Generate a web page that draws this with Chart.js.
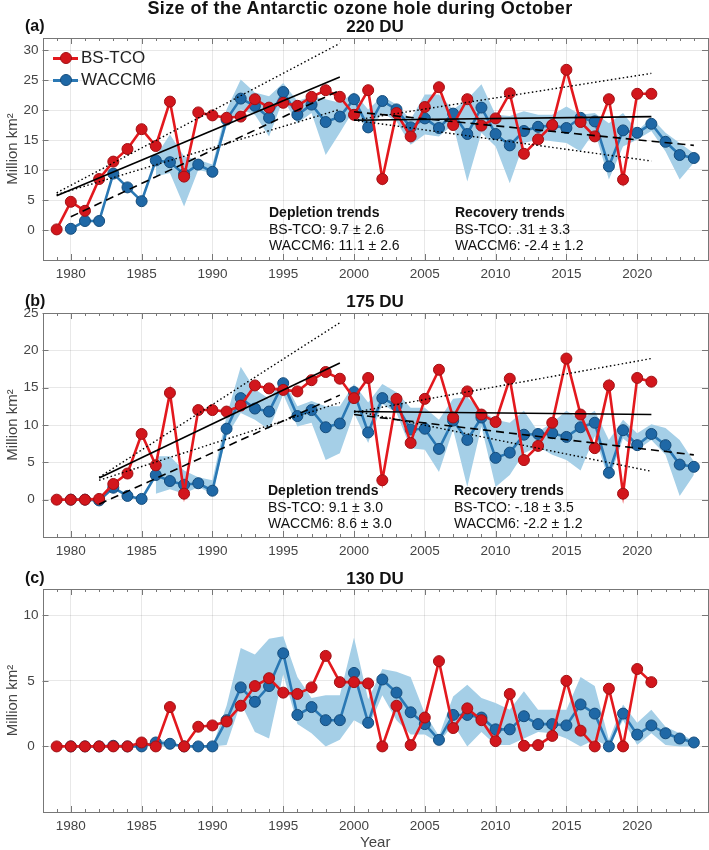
<!DOCTYPE html>
<html>
<head>
<meta charset="utf-8">
<script src="https://cdn.jsdelivr.net/npm/chart.js@4.4.1/dist/chart.umd.min.js"></script>
<style>
  body { margin: 0; background: #fff; font-family: "Liberation Sans", Arial, sans-serif; }
  #wrap { position: relative; width: 709px; height: 850px; }
  canvas { position: absolute; left: 0; }
  .t { position: absolute; white-space: nowrap; color: #111; }
  .b { font-weight: bold; }
  .leg { position: absolute; left: 53px; font-size: 17px; color: #222; }
  .leg div { position: relative; height: 22px; line-height: 22px; padding-left: 28px; }
  .leg i { position: absolute; left: 0; top: 10px; width: 25px; height: 3px; }
  .leg b { position: absolute; left: 7px; top: 5px; width: 10px; height: 10px; border-radius: 50%; border: 1px solid; }
</style>
</head>
<body>
<div id="wrap">
  <canvas id="ca"></canvas>
  <canvas id="cb"></canvas>
  <canvas id="cc"></canvas>

  <div class="t b" style="left:0;width:720px;text-align:center;top:-2px;font-size:18px;letter-spacing:0.4px;">Size of the Antarctic ozone hole during October</div>
  <div class="t b" style="left:25px;top:17px;font-size:16px;">(a)</div>
  <div class="t b" style="left:42px;width:666px;text-align:center;top:17px;font-size:17px;">220 DU</div>
  <div class="t b" style="left:25px;top:292px;font-size:16px;">(b)</div>
  <div class="t b" style="left:42px;width:666px;text-align:center;top:292px;font-size:17px;">175 DU</div>
  <div class="t b" style="left:25px;top:569px;font-size:16px;">(c)</div>
  <div class="t b" style="left:42px;width:666px;text-align:center;top:569px;font-size:17px;">130 DU</div>

  <div class="leg" style="top:47px;">
    <div><i style="background:#e3191e"></i><b style="background:#d2161c;border-color:#a01014"></b>BS-TCO</div>
    <div><i style="background:#2a78b4"></i><b style="background:#1f68a6;border-color:#164d7c"></b>WACCM6</div>
  </div>

  <div class="t" style="left:269px;top:204px;font-size:14px;line-height:16.7px;"><span class="b">Depletion trends</span><br>BS-TCO: 9.7 ± 2.6<br>WACCM6: 11.1 ± 2.6</div>
  <div class="t" style="left:455px;top:204px;font-size:14px;line-height:16.7px;"><span class="b">Recovery trends</span><br>BS-TCO: .31 ± 3.3<br>WACCM6: -2.4 ± 1.2</div>
  <div class="t" style="left:268px;top:482px;font-size:14px;line-height:16.7px;"><span class="b">Depletion trends</span><br>BS-TCO: 9.1 ± 3.0<br>WACCM6: 8.6 ± 3.0</div>
  <div class="t" style="left:454px;top:482px;font-size:14px;line-height:16.7px;"><span class="b">Recovery trends</span><br>BS-TCO: -.18 ± 3.5<br>WACCM6: -2.2 ± 1.2</div>
</div>

<script>
// years
var bsYears = [];  for (var y = 1979; y <= 2021; y++) bsYears.push(y);
var wacYears = []; for (var y = 1980; y <= 2024; y++) wacYears.push(y);
var xTicks = [1980, 1985, 1990, 1995, 2000, 2005, 2010, 2015, 2020];

// ---- 220 DU ----
var bs220 = [0.1, 4.7, 3.2, 8.5, 11.4, 13.5, 16.8, 14.0, 21.4, 8.9, 19.6, 19.1, 18.7, 18.9, 21.8, 20.4, 21.2, 20.7, 22.2, 23.3, 22.2,
  19.2, 23.3, 8.5, 19.5, 15.6, 20.5, 23.8, 17.5, 21.8, 17.4, 18.6, 22.8, 12.7, 15.1, 17.5, 26.7, 18.0, 15.6, 21.8, 8.4, 22.7, 22.7];
var wac220 = [0.2, 1.5, 1.5, 9.4, 7.1, 4.8, 11.6, 11.3, 9.3, 10.9, 9.7, 18.4, 21.9, 20.7, 18.7, 23.0, 19.2, 20.9, 18.0, 18.9,
  21.8, 17.1, 21.5, 20.1, 17.1, 18.6, 17.0, 19.4, 16.0, 20.4, 16.0, 14.1, 16.5, 17.2, 17.4, 17.0, 18.7, 18.1, 10.6, 16.6, 16.2, 17.7, 14.7, 12.5, 12.0];
var hi220 = [null, null, null, null, null, null, 12.3, 15.9, 12.3, 11.7, 10.9, 20.1, 25.1, 22.9, 22.3, 24.5, 21.5, 22.3, 21.8, 21.2,
  22.9, 20.1, 22.3, 20.9, 18.4, 22.6, 22.6, 20.1, 21.8, 24.3, 19.2, 19.0, 19.8, 19.2, 19.2, 20.6, 19.2, 19.5, 17.8, 19.5, 16.5, 18.7, 16.2, 14.5, 12.8];
var lo220 = [null, null, null, null, null, null, 8.9, 9.5, 3.9, 10.0, 9.5, 17.3, 20.1, 19.2, 15.6, 21.8, 17.8, 19.5, 12.5, 16.2,
  20.1, 16.2, 19.5, 18.1, 14.2, 15.9, 15.6, 17.6, 8.1, 16.2, 13.9, 7.8, 14.5, 15.1, 14.8, 14.5, 13.1, 16.5, 8.4, 13.9, 15.1, 16.5, 13.1, 8.4, 11.2];
// trend line end points [x0, y0, x1, y1]
var tr220 = {
  bsDep:   [1979, 5.7, 1999, 25.5],
  bsDepHi: [1979, 6.2, 1999, 31.1],
  bsDepLo: [1979, 5.9, 1999, 20.1],
  wacDep:  [1980, 2.2, 1999, 23.3],
  bsRec:   [2000, 18.3, 2021, 18.9],
  bsRecHi: [2000, 18.3, 2021, 26.1],
  bsRecLo: [2000, 18.3, 2021, 11.5],
  wacRec:  [2000, 19.7, 2024, 14.1]
};

// ---- 175 DU ----
var bs175 = [0, 0, 0, 0.1, 2.1, 3.5, 8.8, 4.6, 14.3, 0.8, 12.0, 12.0, 11.8, 12.6, 15.3, 14.9, 14.7, 14.5, 16.0, 17.1, 16.2,
  13.6, 16.3, 2.6, 13.5, 7.6, 13.5, 17.4, 11.0, 14.5, 11.4, 10.4, 16.2, 5.3, 7.2, 10.3, 18.9, 11.4, 6.9, 15.3, 0.8, 16.3, 15.8];
var wac175 = [0, 0, -0.1, 1.6, 0.5, 0.1, 3.3, 2.5, 2.0, 2.2, 1.2, 9.5, 13.6, 12.2, 11.8, 15.6, 11.2, 12.0, 9.7, 10.2,
  14.4, 9.0, 13.6, 12.6, 9.4, 9.5, 6.8, 10.6, 8.0, 11.0, 5.6, 6.3, 8.7, 8.8, 8.9, 8.4, 9.7, 10.3, 3.6, 9.3, 7.3, 8.8, 7.3, 4.7, 4.4];
var hi175 = [null, null, null, null, null, null, 5.8, 5.8, 3.9, 3.0, 2.6, 11.2, 17.8, 14.8, 13.5, 16.2, 12.5, 13.2, 12.5, 12.5,
  15.5, 13.0, 15.5, 14.4, 12.3, 12.3, 10.7, 13.5, 13.7, 11.9, 10.7, 10.3, 11.9, 9.1, 10.3, 11.9, 10.7, 11.9, 8.0, 10.7, 8.9, 10.1, 9.6, 8.0, 5.1];
var lo175 = [null, null, null, null, null, null, 0.8, 1.4, 0.8, 1.7, 0.8, 8.5, 11.6, 10.7, 9.4, 14.1, 9.8, 10.3, 5.3, 6.2,
  11.6, 7.6, 12.8, 11.6, 6.9, 6.7, 3.7, 9.4, 1.7, 9.8, 1.7, 3.3, 6.2, 7.1, 6.0, 5.3, 3.9, 8.5, 2.6, 8.2, 6.7, 8.0, 6.0, 0.5, 3.3];
var tr175 = {
  bsDep:   [1982, 2.9, 1999, 18.3],
  bsDepHi: [1982, 3.0, 1999, 23.7],
  bsDepLo: [1982, 2.6, 1999, 13.0],
  wacDep:  [1982, -0.6, 1999, 14.0],
  bsRec:   [2000, 11.8, 2021, 11.4],
  bsRecHi: [2000, 11.7, 2021, 18.9],
  bsRecLo: [2000, 11.9, 2021, 3.8],
  wacRec:  [2000, 11.4, 2024, 6.0]
};

// ---- 130 DU ----
var bs130 = [0, 0, 0, 0, 0, 0, 0.3, 0, 3.0, 0, 1.5, 1.6, 1.9, 3.1, 4.6, 5.2, 4.1, 4.0, 4.5, 6.9, 4.9,
  4.9, 4.8, 0, 3.1, 0.1, 2.2, 6.5, 1.4, 2.9, 2.0, 0.4, 4.0, 0.05, 0.1, 0.8, 5.0, 1.2, 0, 4.4, 0, 5.9, 4.9];
var wac130 = [0, 0, 0, 0.05, 0, 0, 0.3, 0.2, 0, 0, 0, 2.0, 4.5, 3.4, 4.6, 7.1, 2.4, 3.0, 2.0, 2.0,
  5.6, 1.8, 5.1, 4.1, 2.6, 1.7, 0.5, 2.4, 2.4, 2.2, 1.3, 1.3, 2.3, 1.7, 1.7, 1.6, 3.2, 2.5, 0, 2.5, 0.9, 1.6, 1.0, 0.6, 0.3];
var hi130 = [null, null, null, null, null, null, 0.5, 0.4, 0, 0, 0, 3.1, 7.5, 7.0, 8.2, 8.4, 5.3, 3.7, 3.9, 3.9,
  8.3, 3.6, 5.9, 5.7, 5.3, 2.5, 0.8, 3.8, 4.7, 3.7, 3.3, 2.8, 4.2, 2.8, 2.8, 2.8, 5.3, 4.6, 0.5, 3.2, 1.8, 2.8, 1.5, 1.0, 0.4];
var lo130 = [null, null, null, null, null, null, 0, 0, 0, 0, 0, 0.1, 3.3, 1.1, 0.6, 5.5, 1.7, 1.0, 0, 0.5,
  2.0, 1.4, 3.9, 2.0, 0.9, 0.9, 0.25, 1.7, 0, 1.1, 0.1, 0.1, 0.6, 1.1, 1.0, 0.6, 0, 0.5, 0, 2.0, 0.1, 1.0, 0.1, 0, 0];

var RED = '#e3191e', RED_FILL = '#d2161c', RED_EDGE = '#a01014';
var BLUE = '#2a78b4', BLUE_FILL = '#1f68a6', BLUE_EDGE = '#164d7c';
var BAND = '#a5cfe7';

function pts(xs, ys) {
  return xs.map(function (x, i) { return { x: x, y: ys[i] }; });
}
function seg(t) { return [{ x: t[0], y: t[1] }, { x: t[2], y: t[3] }]; }

function trendSets(tr) {
  var out = [];
  function line(t, dash, w) {
    out.push({ data: seg(t), borderColor: '#000', borderWidth: w, borderDash: dash, pointRadius: 0, fill: false });
  }
  line(tr.bsDep, [], 1.6);
  line(tr.bsDepHi, [1.5, 2.5], 1.4);
  line(tr.bsDepLo, [1.5, 2.5], 1.4);
  line(tr.wacDep, [8, 5], 1.6);
  line(tr.bsRec, [], 1.6);
  line(tr.bsRecHi, [1.5, 2.5], 1.4);
  line(tr.bsRecLo, [1.5, 2.5], 1.4);
  line(tr.wacRec, [8, 5], 1.6);
  return out;
}

// MATLAB-like box with inside ticks
var boxPlugin = {
  id: 'box',
  afterDatasetsDraw: function (chart) {
    var a = chart.chartArea, ctx = chart.ctx, xs = chart.scales.x, ys = chart.scales.y;
    ctx.save();
    ctx.strokeStyle = '#777';
    ctx.lineWidth = 1;
    ctx.beginPath();
    for (var yr = Math.ceil(xs.min); yr <= xs.max; yr++) {
      var px = Math.round(xs.getPixelForValue(yr)) + 0.5;
      var len = (yr % 5 === 0) ? 6 : 3;
      ctx.moveTo(px, a.bottom); ctx.lineTo(px, a.bottom - len);
      ctx.moveTo(px, a.top); ctx.lineTo(px, a.top + len);
    }
    ys.ticks.forEach(function (t) {
      var py = Math.round(ys.getPixelForValue(t.value)) + 0.5;
      ctx.moveTo(a.left, py); ctx.lineTo(a.left + 6, py);
      ctx.moveTo(a.right, py); ctx.lineTo(a.right - 6, py);
    });
    ctx.stroke();
    ctx.strokeRect(Math.round(a.left) + 0.5, Math.round(a.top) + 0.5, Math.round(a.right - a.left) - 1, Math.round(a.bottom - a.top));
    ctx.restore();
  }
};

function makeChart(id, top, height, padTop, xAxisH, ymin, ymax, yTicks, bs, wac, hi, lo, tr, showYear) {
  var cv = document.getElementById(id);
  cv.style.top = top + 'px';
  cv.width = 709; cv.height = height;
  cv.style.width = '709px'; cv.style.height = height + 'px';

  var sets = [
    { data: pts(bsYears, bs), borderColor: RED, borderWidth: 2.6, pointRadius: 5.5, pointBorderWidth: 1,
      pointBackgroundColor: RED_FILL, pointBorderColor: RED_EDGE, fill: false },
    { data: pts(wacYears, wac), borderColor: BLUE, borderWidth: 2.6, pointRadius: 5.5, pointBorderWidth: 1,
      pointBackgroundColor: BLUE_FILL, pointBorderColor: BLUE_EDGE, fill: false }
  ];
  var trends = tr ? trendSets(tr) : [];
  sets = trends.concat(sets);
  sets.push({ data: pts(wacYears, hi), borderWidth: 0, pointRadius: 0, backgroundColor: BAND, fill: '+1', spanGaps: false });
  sets.push({ data: pts(wacYears, lo), borderWidth: 0, pointRadius: 0, fill: false, spanGaps: false });

  return new Chart(cv, {
    type: 'line',
    data: { datasets: sets },
    plugins: [boxPlugin],
    options: {
      responsive: false,
      animation: false,
      layout: { autoPadding: false, padding: { top: padTop, right: 1, left: 0, bottom: 0 } },
      plugins: { legend: { display: false }, tooltip: { enabled: false } },
      elements: { line: { tension: 0 } },
      scales: {
        x: {
          type: 'linear', min: 1978, max: 2025,
          afterBuildTicks: function (s) { s.ticks = xTicks.map(function (v) { return { value: v }; }); },
          afterFit: function (s) { s.height = xAxisH; },
          grid: { color: 'rgba(0,0,0,0.09)', drawTicks: false },
          border: { display: false },
          ticks: { padding: 6, maxRotation: 0, color: '#444', font: { family: 'Liberation Sans', size: 13.5 },
            callback: function (v) { return String(v); } },
          title: { display: showYear, text: 'Year', color: '#444', padding: { top: 0, bottom: 0 },
            font: { family: 'Liberation Sans', size: 15, lineHeight: 1 } }
        },
        y: {
          min: ymin, max: ymax,
          afterBuildTicks: function (s) { s.ticks = yTicks.map(function (v) { return { value: v }; }); },
          afterFit: function (s) { s.width = 42.5; },
          grid: { color: 'rgba(0,0,0,0.09)', drawTicks: false },
          border: { display: false },
          ticks: { padding: 4, crossAlign: 'center', color: '#444', font: { family: 'Liberation Sans', size: 13.5 } },
          title: { display: true, text: 'Million km²', color: '#444', padding: { top: 4, bottom: 0 },
            font: { family: 'Liberation Sans', size: 15, lineHeight: 1.2 } }
        }
      }
    }
  });
}

makeChart('ca', 0, 290, 38, 30, -5, 32, [0, 5, 10, 15, 20, 25, 30], bs220, wac220, hi220, lo220, tr220, false);
makeChart('cb', 290, 277, 23, 30, -5, 25, [0, 5, 10, 15, 20, 25], bs175, wac175, hi175, lo175, tr175, false);
makeChart('cc', 567, 283, 22, 38, -5, 12, [0, 5, 10], bs130, wac130, hi130, lo130, null, true);
</script>
</body>
</html>
